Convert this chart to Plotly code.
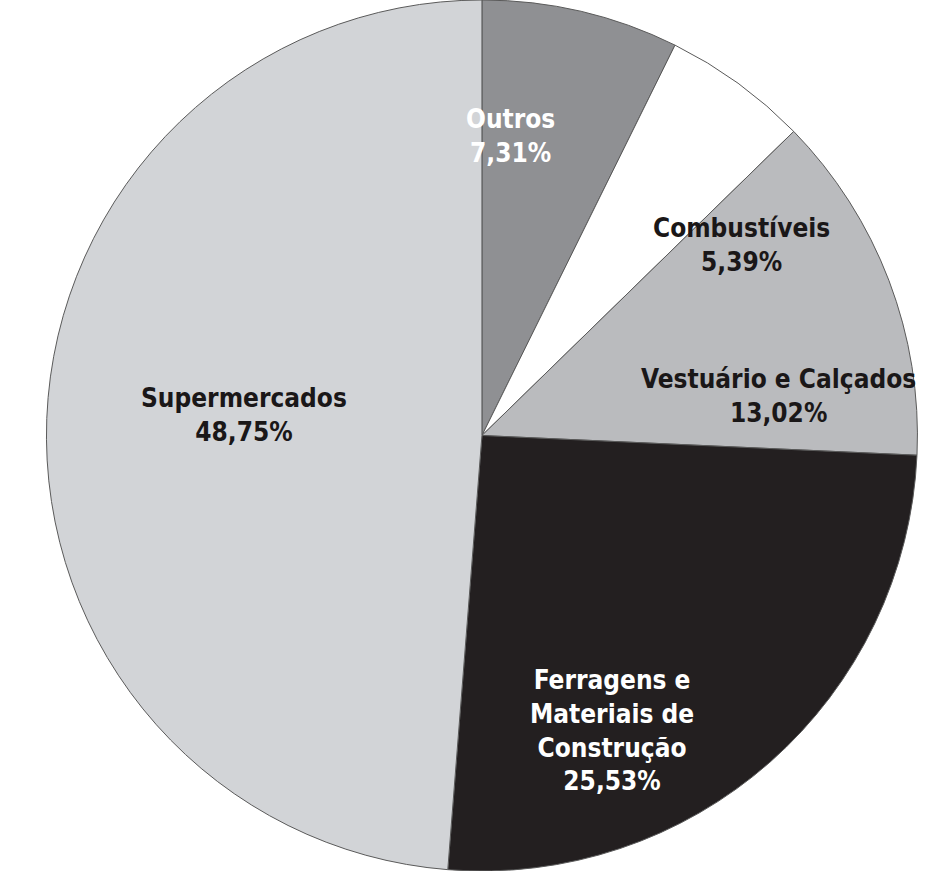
import plotly.graph_objects as go

categories = ["Outros", "Combustíveis", "Vestuário e Calçados",
              "Ferragens e Materiais de Construção", "Supermercados"]
display_names = ["Outros", "Combustíveis", "Vestuário e Calçados",
                 "Ferragens e<br>Materiais de<br>Construção", "Supermercados"]
shares = [7.31, 5.39, 13.02, 25.53, 48.75]
slice_colors = ["#8f9093", "#ffffff", "#babbbe", "#231f20", "#d2d4d7"]
text_colors = ["#ffffff", "#1a1718", "#1a1718", "#ffffff", "#1a1718"]
# label centres in pixels of the 934x871 picture
label_px = [(510, 136), (741, 245), (778, 396), (612, 730), (244, 415)]

W, H = 934, 871
FONT = "DejaVu Sans Condensed, Liberation Sans Narrow, Arial Narrow, sans-serif"

fig = go.Figure(go.Pie(
    labels=categories,
    values=shares,
    sort=False,
    direction="clockwise",
    rotation=0,
    marker=dict(colors=slice_colors, line=dict(color="#5a5a5a", width=1)),
    textinfo="none",
    hoverinfo="label+percent",
    showlegend=False,
    domain=dict(x=[0.032, 1.0], y=[0.0, 1.0]),
))

for name, v, c, (px, py) in zip(display_names, shares, text_colors, label_px):
    pct = f"{v:.2f}".replace(".", ",") + "%"
    fig.add_annotation(
        text=f"<b>{name}<br>{pct}</b>",
        x=px / W, y=1 - py / H, xref="paper", yref="paper",
        xanchor="center", yanchor="middle", showarrow=False,
        font=dict(family=FONT, size=26, color=c),
        align="center",
    )

fig.update_layout(
    width=W, height=H,
    margin=dict(l=0, r=0, t=0, b=0),
    paper_bgcolor="#ffffff",
    plot_bgcolor="#ffffff",
)

fig.write_html("out.html", config={"displayModeBar": False},
               post_script="document.body.style.margin='0';")
